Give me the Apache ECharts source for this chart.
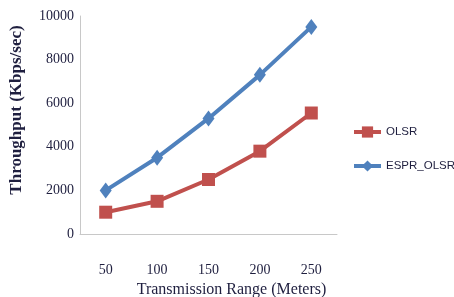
<!DOCTYPE html>
<html>
<head>
<meta charset="utf-8">
<script src="https://cdn.jsdelivr.net/npm/echarts@6/dist/echarts.min.js"></script>
<style>
  html, body { margin: 0; padding: 0; background: #fff; }
  #chart { width: 454px; height: 297px; }
</style>
</head>
<body>
<div id="chart"></div>
<script>
// transmission range categories (meters)
var ranges = ['50', '100', '150', '200', '250'];
// throughput values (Kbps/sec)
var olsr = [1000, 1500, 2500, 3800, 5550];
var esprOlsr = [2000, 3500, 5300, 7300, 9500];
var yTicks = [0, 2000, 4000, 6000, 8000, 10000];

var myChart = echarts.init(document.getElementById('chart'));
myChart.setOption({
    animation: false,
    grid: { left: 80, right: 117, top: 16, bottom: 63, outerBoundsMode: 'none', containLabel: false },
    legend: {
        orient: 'vertical',
        left: 352,
        top: 126,
        padding: 0,
        itemWidth: 27,
        itemHeight: 14,
        itemGap: 22,
        lineStyle: { width: 4 },
        textStyle: { fontFamily: 'Liberation Sans', fontSize: 11.5, color: '#1f1f3f', overflow: 'none' },
        data: ['OLSR', 'ESPR_OLSR']
    },
    xAxis: {
        type: 'category',
        data: ranges,
        name: 'Transmission Range (Meters)',
        nameLocation: 'middle',
        nameGap: 46,
        nameTextStyle: { fontFamily: 'Liberation Serif', fontSize: 16, color: '#1f1f3f', padding: [0, 0, 0, 46] },
        axisLine: { lineStyle: { color: '#c8c8c8', width: 1 } },
        axisTick: { show: false },
        axisLabel: { margin: 29, fontFamily: 'Liberation Serif', fontSize: 14, color: '#1f1f3f' }
    },
    yAxis: {
        type: 'value',
        min: yTicks[0],
        max: yTicks[yTicks.length - 1],
        interval: 2000,
        name: 'Throughput (Kbps/sec)',
        nameLocation: 'middle',
        nameGap: 55,
        nameRotate: 90,
        nameTextStyle: { fontFamily: 'Liberation Serif', fontSize: 17, fontWeight: 'bold', color: '#1f1f3f', padding: [0, 0, 0, 30] },
        axisLine: { show: true, lineStyle: { color: '#c8c8c8', width: 1 } },
        axisTick: { show: false },
        splitLine: { show: false },
        axisLabel: {
            margin: 6,
            fontFamily: 'Liberation Serif',
            fontSize: 14,
            color: '#1f1f3f',
            formatter: function (v) { return String(v); }
        }
    },
    series: [
        {
            name: 'OLSR',
            type: 'line',
            data: olsr,
            symbol: 'rect',
            symbolSize: 13,
            color: '#c0504d',
            lineStyle: { width: 4, color: '#c0504d' },
            itemStyle: { color: '#c0504d' }
        },
        {
            name: 'ESPR_OLSR',
            type: 'line',
            data: esprOlsr,
            symbol: 'diamond',
            symbolSize: [12, 16],
            color: '#4f81bd',
            lineStyle: { width: 4, color: '#4f81bd' },
            itemStyle: { color: '#4f81bd' }
        }
    ]
});
</script>
</body>
</html>
